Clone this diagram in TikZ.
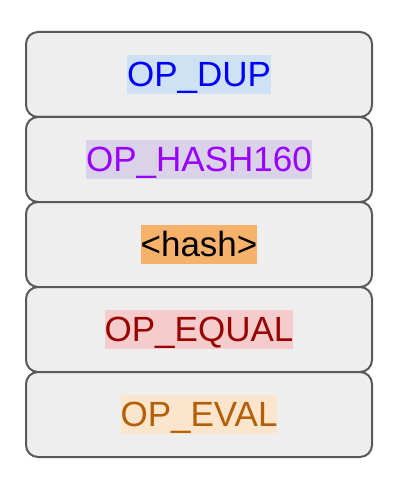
\documentclass[tikz,border=0pt]{standalone}
\usepackage{fontspec}
\setmainfont{Liberation Sans}
\definecolor{boxfill}{HTML}{EEEEEE}
\definecolor{boxline}{HTML}{595959}
\definecolor{dupfg}{HTML}{0000FF}\definecolor{dupbg}{HTML}{CFE2F3}
\definecolor{hashfg}{HTML}{9900FF}\definecolor{hashbg}{HTML}{D9D2E9}
\definecolor{datafg}{HTML}{000000}\definecolor{databg}{HTML}{F6B26B}
\definecolor{eqfg}{HTML}{990000}\definecolor{eqbg}{HTML}{F4CCCC}
\definecolor{evalfg}{HTML}{B45F06}\definecolor{evalbg}{HTML}{FCE5CD}
\begin{document}
\begin{tikzpicture}[x=1pt,y=-1pt,
  stackbox/.style={draw=boxline, fill=boxfill, line width=2pt, rounded corners=12pt,
    minimum width=346pt, minimum height=85pt, inner sep=0pt, anchor=center},
  oplabel/.style={inner sep=0pt, font=\fontsize{35}{42}\selectfont,
    text height=31.7pt, text depth=7.4pt, anchor=center}]
\useasboundingbox (0,0) rectangle (411,481);
\foreach \i/\y in {1/74.5, 2/159.5, 3/244.5, 4/329.5, 5/414.5}
  \node[stackbox] (b\i) at (199,\y) {};
\node[oplabel, fill=dupbg, text=dupfg] (t1) at (b1.center) {OP\_DUP};
\node[oplabel, fill=hashbg, text=hashfg] (t2) at (b2.center) {OP\_HASH160};
\node[oplabel, fill=databg, text=datafg] (t3) at (b3.center) {<hash>};
\node[oplabel, fill=eqbg, text=eqfg] (t4) at (b4.center) {OP\_EQUAL};
\node[oplabel, fill=evalbg, text=evalfg] (t5) at (b5.center) {OP\_EVAL};
\end{tikzpicture}
\end{document}
